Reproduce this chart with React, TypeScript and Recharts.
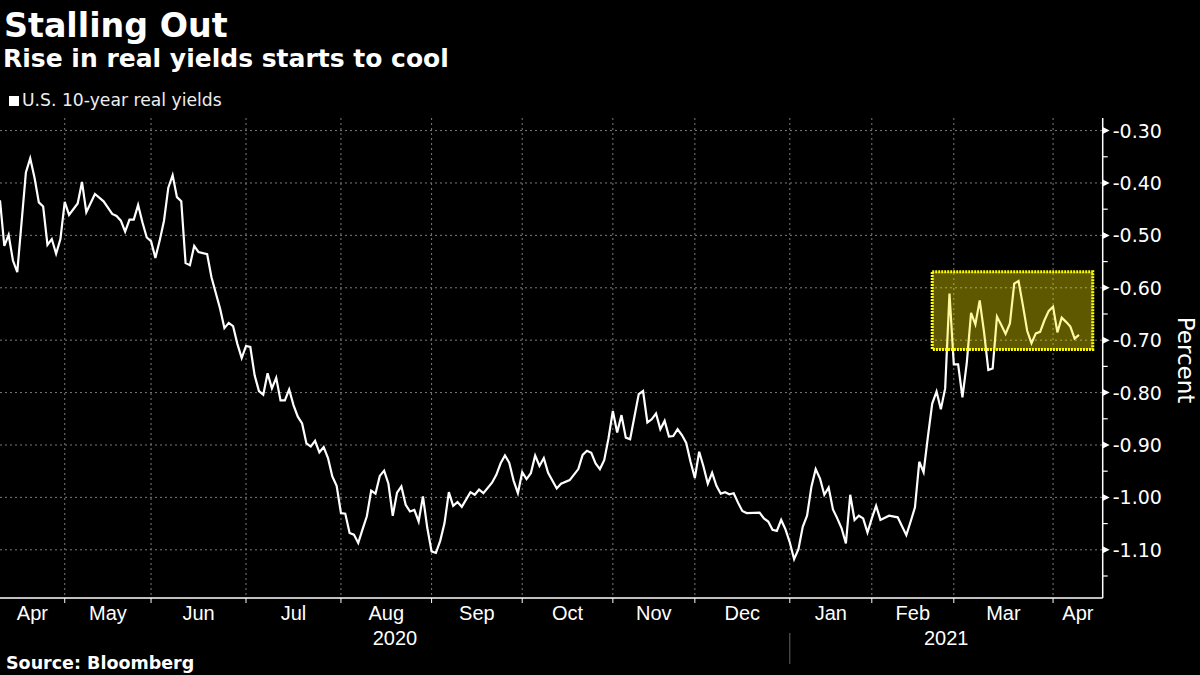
import { LineChart, Line, XAxis, YAxis, CartesianGrid, ReferenceArea } from 'recharts'

// business-day index since the start of the window (early Apr 2020)
const days = [
  0, 1, 2, 3, 4, 6, 7, 8, 9, 10, 11, 12, 13, 14, 15, 16, 18, 19, 20, 22, 24, 26, 27, 28, 29, 30,
  31, 32, 33, 34, 35, 36, 37, 38, 39, 40, 41, 42, 43, 44, 45, 46, 48, 49, 51, 52, 53, 54, 55, 56,
  57, 58, 59, 60, 61, 62, 63, 64, 65, 66, 67, 68, 69, 70, 71, 72, 73, 74, 75, 76, 77, 78, 79, 80,
  81, 82, 83, 84, 85, 86, 87, 88, 89, 90, 91, 92, 93, 94, 95, 96, 97, 98, 99, 100, 101, 102, 103,
  104, 105, 106, 107, 109, 110, 111, 112, 114, 115, 116, 117, 118, 119, 120, 121, 122, 123, 124,
  125, 126, 127, 129, 130, 132, 134, 135, 136, 137, 138, 139, 140, 141, 142, 143, 144, 145, 146,
  148, 149, 150, 151, 152, 153, 154, 155, 156, 157, 158, 159, 160, 161, 162, 163, 164, 165, 166,
  167, 168, 169, 170, 171, 172, 173, 176, 177, 178, 179, 180, 181, 182, 183, 184, 185, 186, 187,
  188, 189, 190, 191, 192, 193, 194, 195, 196, 197, 198, 199, 200, 201, 202, 203, 204, 206, 208,
  210, 211, 212, 213, 214, 215, 216, 217, 218, 219, 220, 221, 222, 223, 224, 225, 226, 227, 228,
  229, 230, 231, 232, 233, 234, 235, 236, 237, 238, 239, 240, 241, 242, 243, 244, 245, 246, 247,
  248, 249, 250,
]

const yields = [
  -0.433, -0.52, -0.499, -0.548, -0.57, -0.38, -0.353, -0.39, -0.437, -0.445, -0.518, -0.507,
  -0.535, -0.507, -0.436, -0.461, -0.439, -0.398, -0.456, -0.421, -0.435, -0.459, -0.463, -0.472,
  -0.493, -0.47, -0.47, -0.442, -0.475, -0.504, -0.511, -0.543, -0.51, -0.472, -0.409, -0.385,
  -0.427, -0.435, -0.553, -0.557, -0.52, -0.532, -0.536, -0.58, -0.64, -0.677, -0.667, -0.673,
  -0.707, -0.734, -0.711, -0.713, -0.767, -0.797, -0.804, -0.763, -0.792, -0.772, -0.815, -0.815,
  -0.794, -0.824, -0.846, -0.859, -0.897, -0.903, -0.892, -0.914, -0.904, -0.925, -0.96, -0.978,
  -1.03, -1.031, -1.068, -1.071, -1.087, -1.061, -1.036, -0.987, -0.993, -0.959, -0.949, -0.974,
  -1.035, -0.991, -0.979, -1.014, -1.027, -1.024, -1.046, -0.998, -1.058, -1.103, -1.106, -1.083,
  -1.049, -0.99, -1.016, -1.009, -1.018, -0.99, -0.995, -0.985, -0.992, -0.972, -0.957, -0.935,
  -0.92, -0.934, -0.968, -0.992, -0.952, -0.965, -0.954, -0.92, -0.94, -0.925, -0.953, -0.983,
  -0.974, -0.967, -0.946, -0.919, -0.911, -0.915, -0.935, -0.946, -0.929, -0.887, -0.835, -0.876,
  -0.843, -0.886, -0.889, -0.803, -0.797, -0.857, -0.851, -0.84, -0.87, -0.854, -0.884, -0.883,
  -0.87, -0.881, -0.896, -0.932, -0.963, -0.913, -0.941, -0.974, -0.953, -0.978, -0.993, -0.99,
  -0.994, -0.992, -1.01, -1.026, -1.03, -1.029, -1.04, -1.046, -1.062, -1.064, -1.043, -1.061,
  -1.086, -1.118, -1.099, -1.056, -1.035, -0.98, -0.946, -0.964, -0.995, -0.981, -1.023, -1.04,
  -1.059, -1.088, -0.995, -1.043, -1.035, -1.04, -1.067, -1.04, -1.016, -1.043, -1.035, -1.038,
  -1.072, -1.046, -1.019, -0.932, -0.952, -0.884, -0.821, -0.798, -0.832, -0.792, -0.611, -0.746,
  -0.746, -0.809, -0.744, -0.648, -0.67, -0.624, -0.684, -0.757, -0.754, -0.655, -0.671, -0.688,
  -0.668, -0.592, -0.587, -0.633, -0.682, -0.706, -0.687, -0.684, -0.662, -0.644, -0.636, -0.685,
  -0.657, -0.665, -0.674, -0.697, -0.69,
]

// first business day of each month on the same index scale
const monthStarts = [0, 15, 35, 57, 79, 100, 121, 142, 161, 183, 202, 221, 244]
const monthLabels = ['Apr', 'May', 'Jun', 'Jul', 'Aug', 'Sep', 'Oct', 'Nov', 'Dec', 'Jan', 'Feb', 'Mar', 'Apr']
const axisEnd = 255.5
const yearStarts = [0, 183]
const yearLabels = ['2020', '2021']

const yMajor = [-1.1, -1.0, -0.9, -0.8, -0.7, -0.6, -0.5, -0.4, -0.3]
const yMinor = [-1.15, -1.05, -0.95, -0.85, -0.75, -0.65, -0.55, -0.45, -0.35]
const yDomain = [-1.192, -0.276]

// highlighted box (days / yields)
const boxDays = [216, 253.2]
const boxYields = [-0.7176, -0.5695]

const data = days.map((d, i) => ({ d, v: yields[i] }))

type TickInfo = { kind: 'bound' | 'month' | 'year'; label?: string; divider?: boolean }
const xTickInfo = new Map<number, TickInfo>()
monthStarts.slice(1).forEach((m) => xTickInfo.set(m, { kind: 'bound', divider: yearStarts.includes(m) }))
monthStarts.forEach((m, i) => {
  const next = i + 1 < monthStarts.length ? monthStarts[i + 1] : axisEnd
  xTickInfo.set((m + next) / 2, { kind: 'month', label: monthLabels[i] })
})
yearStarts.forEach((s, i) => {
  const next = i + 1 < yearStarts.length ? yearStarts[i + 1] : axisEnd
  xTickInfo.set((s + next) / 2, { kind: 'year', label: yearLabels[i] })
})
const xTicks = Array.from(xTickInfo.keys()).sort((a, b) => a - b)
const majorSet = new Set(yMajor.map((v) => v.toFixed(2)))
const yTicks = [...yMinor, ...yMajor].sort((a, b) => a - b)

const FONT = '"DejaVu Sans", sans-serif'
const AXIS_FONT = '"Liberation Sans", Arial, sans-serif'

function XTick(props: any) {
  const { x, y, payload } = props
  const info = xTickInfo.get(payload.value)
  if (!info) return null
  if (info.kind === 'bound') {
    return (
      <g>
        <line x1={x} x2={x} y1={y} y2={y + 5} stroke="#ffffff" strokeWidth={1} />
        {info.divider && <line x1={x} x2={x} y1={y + 35} y2={y + 66} stroke="#666666" strokeWidth={1} />}
      </g>
    )
  }
  const dy = info.kind === 'month' ? 22 : 47
  return (
    <text x={x} y={y + dy} textAnchor="middle" fill="#ffffff" fontSize={20} fontFamily={AXIS_FONT}>
      {info.label}
    </text>
  )
}

function YTick(props: any) {
  const { x, y, payload } = props
  const v: number = payload.value
  if (!majorSet.has(v.toFixed(2))) {
    return <line x1={x} x2={x + 5} y1={y} y2={y} stroke="#ffffff" strokeWidth={1.2} />
  }
  return (
    <g>
      <path d={`M${x} ${y - 3.5} L${x + 7} ${y} L${x} ${y + 3.5} Z`} fill="#ffffff" />
      <text x={x + 10} y={y + 7} fill="#ffffff" fontSize={19} fontFamily={FONT}>
        {v.toFixed(2)}
      </text>
    </g>
  )
}

export default function App() {
  return (
    <div
      style={{
        position: 'absolute',
        left: 0,
        top: 0,
        width: 1200,
        height: 675,
        background: '#000000',
        overflow: 'hidden',
        fontFamily: FONT,
        color: '#ffffff',
      }}
    >
      <div style={{ position: 'absolute', left: 4, top: 9, fontSize: 33.3, fontWeight: 'bold', lineHeight: 1, whiteSpace: 'nowrap' }}>
        Stalling Out
      </div>
      <div style={{ position: 'absolute', left: 3, top: 46, fontSize: 25, fontWeight: 'bold', lineHeight: 1, whiteSpace: 'nowrap' }}>
        Rise in real yields starts to cool
      </div>
      <div style={{ position: 'absolute', left: 9, top: 92, fontSize: 17.2, lineHeight: 1, whiteSpace: 'nowrap', color: '#eeeeee', display: 'flex', alignItems: 'center' }}>
        <span style={{ display: 'inline-block', width: 10, height: 10, background: '#ffffff', marginRight: 3 }} />
        U.S. 10-year real yields
      </div>
      <div
        style={{
          position: 'absolute',
          left: 1185,
          top: 360,
          fontSize: 23,
          lineHeight: 1,
          whiteSpace: 'nowrap',
          transform: 'translate(-50%, -50%) rotate(90deg)',
        }}
      >
        Percent
      </div>
      <div style={{ position: 'absolute', left: 6, top: 655, fontSize: 17.5, fontWeight: 'bold', lineHeight: 1, whiteSpace: 'nowrap' }}>
        Source: Bloomberg
      </div>

      <div style={{ position: 'absolute', left: 0, top: 0 }}>
        <LineChart width={1200} height={675} data={data} margin={{ top: 118, right: 0, left: 0, bottom: 0 }}>
          <CartesianGrid
            stroke="#7a7a7a"
            strokeDasharray="2 3"
            horizontalValues={yMajor}
            verticalValues={monthStarts.slice(1)}
          />
          <XAxis
            dataKey="d"
            type="number"
            domain={[0, axisEnd]}
            ticks={xTicks}
            interval={0}
            allowDataOverflow
            height={77}
            tickLine={false}
            tickSize={0}
            tickMargin={0}
            axisLine={{ stroke: '#ffffff', strokeWidth: 1.5 }}
            tick={<XTick />}
          />
          <YAxis
            orientation="right"
            type="number"
            domain={yDomain}
            ticks={yTicks}
            interval={0}
            allowDataOverflow
            width={97.3}
            tickLine={false}
            tickSize={0}
            tickMargin={0}
            axisLine={{ stroke: '#ffffff', strokeWidth: 1.5 }}
            tick={<YTick />}
          />
          <Line
            type="linear"
            dataKey="v"
            stroke="#ffffff"
            strokeWidth={2.2}
            dot={false}
            activeDot={false}
            isAnimationActive={false}
          />
          <ReferenceArea
            x1={boxDays[0]}
            x2={boxDays[1]}
            y1={boxYields[0]}
            y2={boxYields[1]}
            fill="#fff000"
            fillOpacity={0.37}
            stroke="#ffff00"
            strokeWidth={3}
            strokeDasharray="2 1"
            zIndex={1000}
          />
        </LineChart>
      </div>
    </div>
  )
}
